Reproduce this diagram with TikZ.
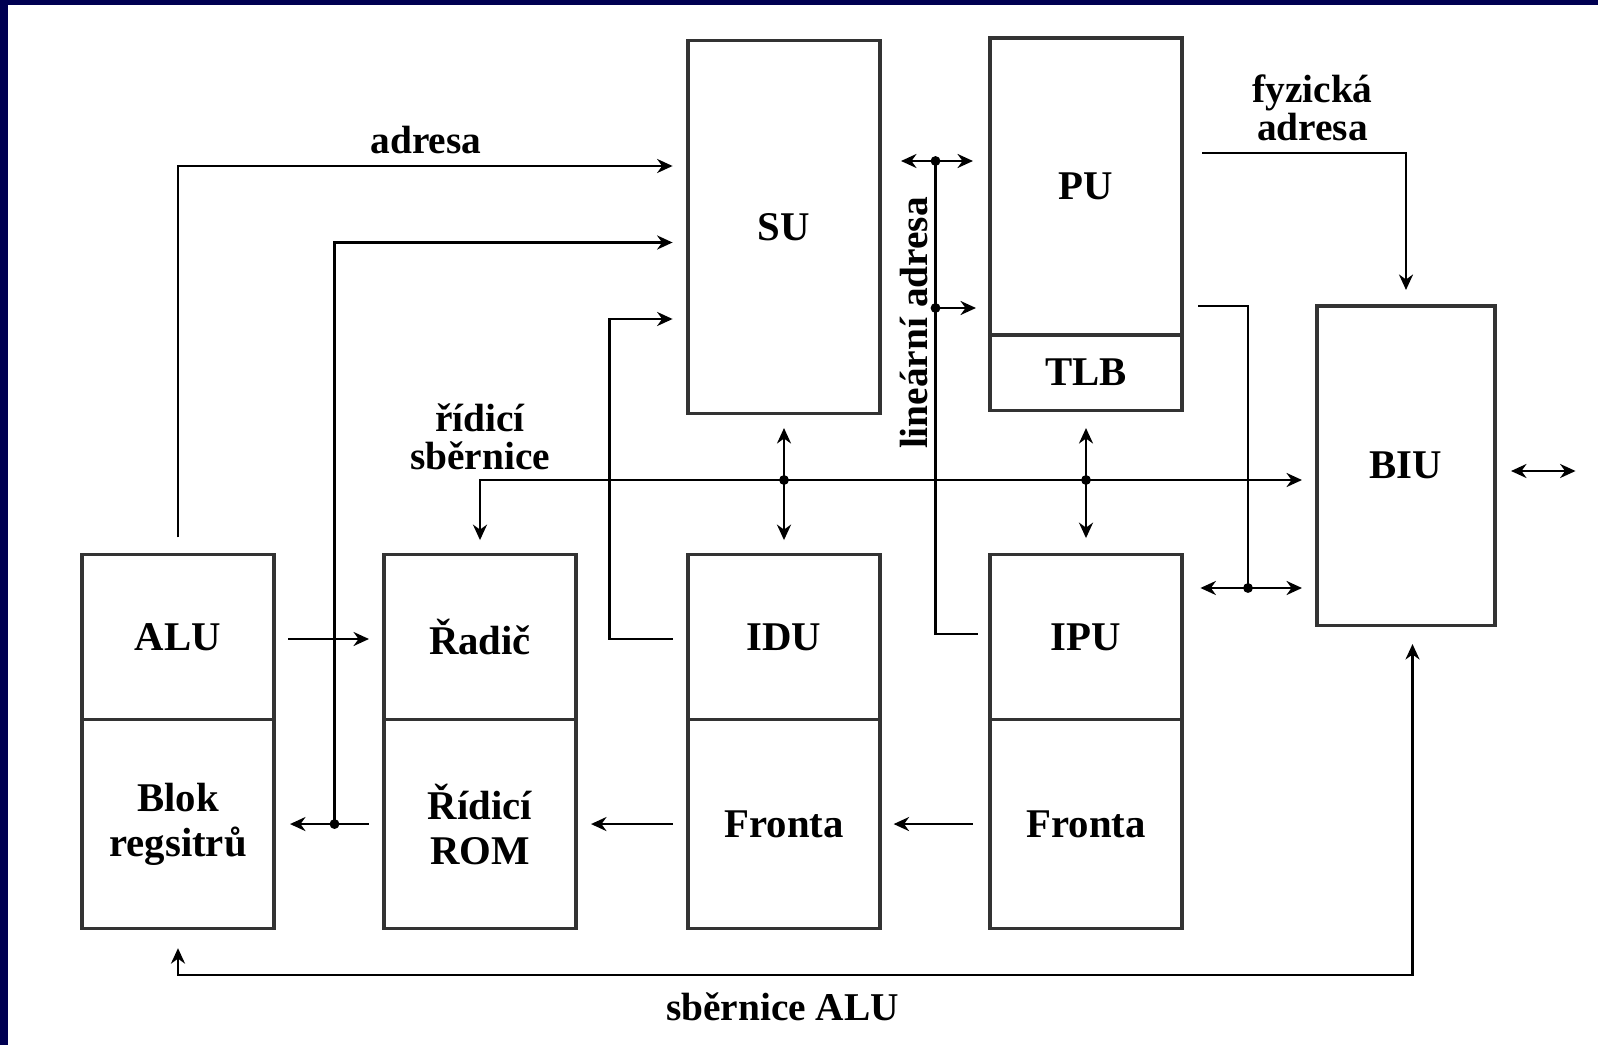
\documentclass[tikz,border=0pt]{standalone}
\usepackage{fontspec}
\setmainfont{Liberation Serif}
\usetikzlibrary{arrows.meta,calc,positioning}
\definecolor{SlideNavy}{HTML}{000052}
\definecolor{BoxGray}{HTML}{333333}

\begin{document}
\begin{tikzpicture}[x=0.025cm,y=-0.025cm,>={Stealth[length=11pt,width=10pt]},
  unit/.style={draw=BoxGray,line width=2.2pt,minimum width=4.8cm,inner sep=0pt,outer sep=0pt,
    align=center,font=\bfseries\fontsize{29}{32}\selectfont},
  bus/.style={line width=1.7pt},
  tag/.style={align=center,font=\bfseries\fontsize{28}{27}\selectfont},
  joint/.style={circle,fill,inner sep=0pt,minimum size=7pt}]
  % slide frame
  \fill[white] (0,0) rectangle (1598,1045);
  \fill[SlideNavy] (0,0) rectangle (1598,5);
  \fill[SlideNavy] (0,0) rectangle (8,1045);
  \useasboundingbox (0,0) rectangle (1598,1045);
  % lower row
  \node[unit,minimum height=4.125cm] (alu) at (178,637) {ALU};
  \node[unit,minimum height=5.225cm,below=0pt of alu] (blok) {Blok\\regsitrů};
  \node[unit,minimum height=4.125cm] (radic) at (480,637) {Řadič};
  \node[unit,minimum height=5.225cm,below=0pt of radic] (rom) {Řídicí\\ROM};
  \node[unit,minimum height=4.125cm] (idu) at (784,637) {IDU};
  \node[unit,minimum height=5.225cm,below=0pt of idu] (frontaD) {Fronta};
  \node[unit,minimum height=4.125cm] (ipu) at (1086,637) {IPU};
  \node[unit,minimum height=5.225cm,below=0pt of ipu] (frontaP) {Fronta};
  % upper row
  \node[unit,minimum height=9.3cm] (su) at (784,227) {SU};
  \node[unit,minimum height=7.425cm] (pu) at (1086,186.5) {PU};
  \node[unit,minimum height=1.875cm,below=0pt of pu] (tlb) {TLB};
  \node[unit,minimum width=4.45cm,minimum height=7.975cm] (biu) at (1406,465.5) {BIU};
  % adresa
  \draw[bus,->,shorten <=0.43cm,shorten >=0.385cm] (alu.north) |- ([shift={(0,-61)}]su.west);
  \node[tag] (ladresa) at (426,140) {adresa};
  % registers
  \draw[bus,->,shorten <=0.375cm,shorten >=0.4cm] (rom.west) -- (blok.east);
  \coordinate (jreg) at ($(blok.east)!0.55!(rom.west)$);
  \draw[bus,->,shorten >=0.385cm] (jreg) |- ([shift={(0,15.5)}]su.west);
  \node[joint] at (jreg) {};
  \draw[bus,->,shorten <=0.35cm,shorten >=0.375cm] ([shift={(0,2)}]alu.east) -- ([shift={(0,2)}]radic.west);
  \draw[bus,->,shorten <=0.385cm,shorten >=0.385cm] ([shift={(0,2)}]idu.west) -- ++(-78.5,0) |- ([shift={(0,92)}]su.west);
  % control bus
  \coordinate (busR) at ([shift={(0,14.5)}]biu.west);
  \draw[bus,<->,shorten <=0.36cm,shorten >=0.375cm] (radic.north) |- (busR);
  \node[tag] (lridici) at (480,437) {řídicí\\sběrnice};
  \draw[bus,<->,shorten <=0.375cm,shorten >=0.36cm] (su.south) -- (idu.north);
  \node[joint] at (su.south |- busR) {};
  \draw[bus,<->,shorten <=0.45cm,shorten >=0.41cm] (tlb.south) -- (ipu.north);
  \node[joint] at (tlb.south |- busR) {};
  % linear address
  \coordinate (lintop) at (935.5,161);
  \coordinate (linmid) at (935.5,308);
  \draw[bus,<->,shorten <=0.525cm,shorten >=0.425cm] (lintop -| su.east) -- (lintop -| pu.west);
  \draw[bus,shorten <=0.3cm] ([shift={(0,-3)}]ipu.west) -| (lintop);
  \draw[bus,->,shorten >=0.35cm] (linmid) -- (linmid -| pu.west);
  \node[joint] at (lintop) {};
  \node[joint] at (linmid) {};
  \node[tag,rotate=90] (llin) at (914,323) {lineární adresa};
  % physical address
  \draw[bus,->,shorten <=0.51cm,shorten >=0.4cm] ([shift={(0,-33.5)}]pu.east) -| (biu.north);
  \node[tag] (lfyz) at (1312.5,108) {fyzická\\adresa};
  \coordinate (jbiu) at (1248,588);
  \draw[bus,<->,shorten <=0.46cm,shorten >=0.375cm] (jbiu -| ipu.east) -- (jbiu -| biu.west);
  \draw[bus,shorten <=0.41cm] ([shift={(0,119.5)}]pu.east) -| (jbiu);
  \node[joint] at (jbiu) {};
  \draw[bus,<->,shorten <=0.4cm] ([shift={(0,5.5)}]biu.east) -- ++(80.5,0);
  % ALU bus
  \draw[bus,<->,shorten <=0.49cm,shorten >=0.475cm] (blok.south) -- ++(0,46.5) -| ([shift={(6.5,0)}]biu.south);
  \node[tag] (lsbernice) at (782.5,1007) {sběrnice ALU};
  % queues
  \draw[bus,->,shorten <=0.425cm,shorten >=0.34cm] (frontaP.west) -- (frontaD.east);
  \draw[bus,->,shorten <=0.385cm,shorten >=0.375cm] (frontaD.west) -- (rom.east);
\end{tikzpicture}
\end{document}
